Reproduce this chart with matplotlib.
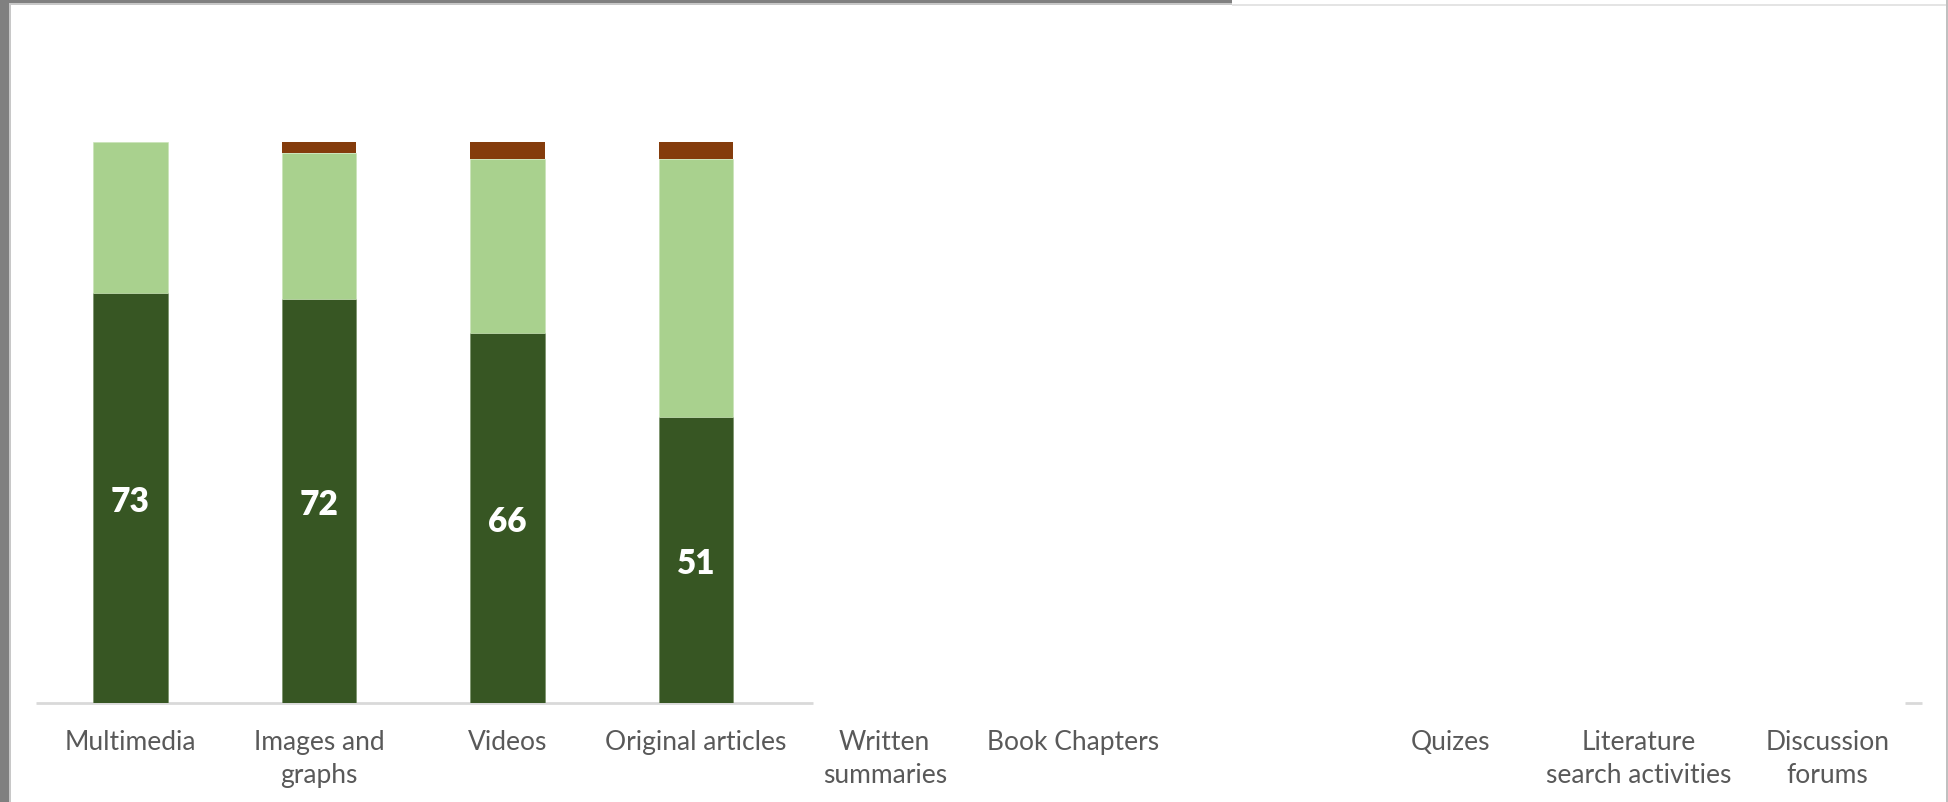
import numpy as np
import matplotlib
matplotlib.use("Agg")
import matplotlib.pyplot as plt
from matplotlib.patches import Rectangle

# ---- data ----
categories = ['Multimedia', 'Images and\ngraphs', 'Videos', 'Original articles',
              'Written\nsummaries', 'Book Chapters', '', 'Quizes',
              'Literature\nsearch activities', 'Discussion\nforums']
strong_vals = [73, 72, 66, 51, np.nan, np.nan, np.nan, np.nan, np.nan, np.nan]
light_vals = [27, 26, 31, 46, np.nan, np.nan, np.nan, np.nan, np.nan, np.nan]
brown_vals = [0, 2, 3, 3, np.nan, np.nan, np.nan, np.nan, np.nan, np.nan]

DARK = '#375623'
LIGHT = '#A9D18E'
BROWN = '#843C0C'

plt.rcParams['font.family'] = ['Lato', 'DejaVu Sans']

W, H = 1948, 803
fig = plt.figure(figsize=(W / 100, H / 100), dpi=100)
fig.patch.set_facecolor('white')

ax = fig.add_axes([36 / W, (H - 704) / H, (1922 - 36) / W, (704 - 143) / H])
x = np.arange(len(categories))
s = np.array(strong_vals, dtype=float)
l = np.array(light_vals, dtype=float)
b = np.array(brown_vals, dtype=float)
bw = 0.395
ax.bar(x, s, width=bw, color=DARK, edgecolor='#6f8a5e', linewidth=0.4, zorder=2)
ax.bar(x, l, width=bw, bottom=s, color=LIGHT, edgecolor='#c8e2b5', linewidth=0.4, zorder=2)
b_draw = np.where(b > 0, b, np.nan)
ax.bar(x, b_draw, width=bw, bottom=s + l, color=BROWN, linewidth=0, zorder=2)

for xi, v in zip(x, s):
    if not np.isnan(v):
        ax.text(xi, v / 2 - 0.5, f'{int(v)}', ha='center', va='center', color='white',
                fontsize=24, fontweight='heavy', zorder=3)

ax.set_xlim(-0.5, len(categories) - 0.5)
ax.set_ylim(0, 100)
for sp in ax.spines.values():
    sp.set_visible(False)
ax.set_yticks([])
ax.set_xticks(x)
ax.set_xticklabels(categories, fontsize=19, color='#595959', linespacing=1.43)
ax.tick_params(axis='x', length=0, pad=18.5)

# partially visible axis line
ax.plot([-0.5, 3.62], [0, 0], color='#D9D9D9', lw=2, zorder=1, clip_on=False,
        solid_capstyle='butt')
ax.plot([9.41, 9.5], [0, 0], color='#D9D9D9', lw=2, zorder=1, clip_on=False,
        solid_capstyle='butt')

# screenshot frame
def px_rect(x0, y0, w, h, color):
    fig.patches.append(Rectangle((x0 / W, 1 - (y0 + h) / H), w / W, h / H,
                                 transform=fig.transFigure, color=color, lw=0, zorder=10))

px_rect(0, 0, 9, H, '#808080')
px_rect(9, 4, 1.5, H, '#c8c8c8')
px_rect(0, 0, 1232, 4, '#808080')
px_rect(9, 4, 1223, 2, '#c8c8c8')
px_rect(1232, 5, W - 1232, 1.5, '#e4e4e4')
px_rect(W - 2, 0, 2, H, '#c0c0c0')

fig.savefig('out.png', dpi=100, facecolor='white')
